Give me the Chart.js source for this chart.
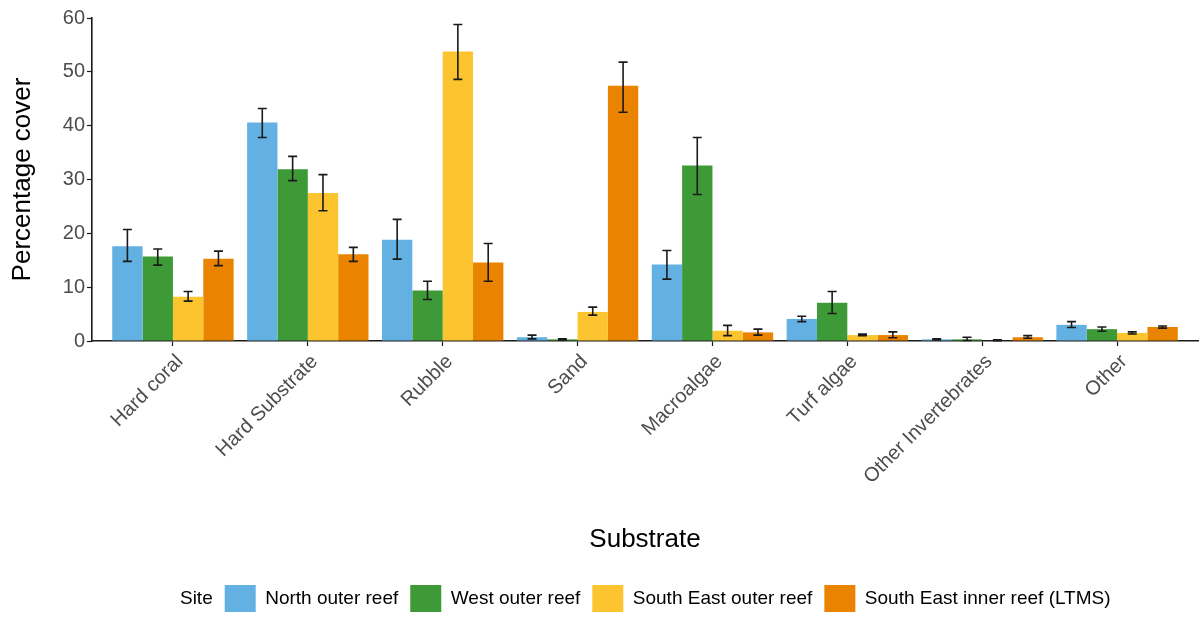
<!DOCTYPE html>
<html>
<head>
<meta charset="utf-8">
<script src="https://cdn.jsdelivr.net/npm/chart.js@4.4.1/dist/chart.umd.min.js"></script>
<style>
html,body{margin:0;padding:0;background:#fff;overflow:hidden;}
#wrap{width:1203px;height:617px;}
</style>
</head>
<body>
<div id="wrap"><canvas id="c" width="1203" height="617"></canvas></div>
<script>
const categories = ["Hard coral","Hard Substrate","Rubble","Sand","Macroalgae","Turf algae","Other Invertebrates","Other"];
const siteNames = ["North outer reef","West outer reef","South East outer reef","South East inner reef (LTMS)"];
const legendTitle = "Site";
const yTicks = [0,10,20,30,40,50,60];

const northMean = [17.6, 40.6, 18.8, 0.7, 14.2, 4.1, 0.3, 3.0];
const northLow  = [14.8, 37.8, 15.2, 0.4, 11.5, 3.6, 0.2, 2.5];
const northHigh = [20.7, 43.2, 22.6, 1.1, 16.8, 4.6, 0.4, 3.6];

const westMean = [15.7, 31.9, 9.4, 0.3, 32.6, 7.1, 0.3, 2.2];
const westLow  = [14.1, 29.8, 7.7, 0.2, 27.2, 5.1, 0.1, 1.8];
const westHigh = [17.1, 34.3, 11.1, 0.4, 37.8, 9.2, 0.7, 2.6];

const seOuterMean = [8.2, 27.5, 53.8, 5.4, 1.9, 1.1, 0.1, 1.5];
const seOuterLow  = [7.4, 24.2, 48.6, 4.8, 1.0, 1.0, 0.05, 1.3];
const seOuterHigh = [9.2, 30.9, 58.8, 6.3, 2.9, 1.3, 0.2, 1.7];

const seInnerMean = [15.3, 16.1, 14.6, 47.4, 1.6, 1.1, 0.7, 2.6];
const seInnerLow  = [14.0, 14.8, 11.1, 42.5, 1.1, 0.6, 0.5, 2.4];
const seInnerHigh = [16.7, 17.4, 18.1, 51.8, 2.2, 1.7, 1.0, 2.8];

const colors = ["#63B0E2","#3E9A36","#FCC52F","#E98300"];

const means = [northMean, westMean, seOuterMean, seInnerMean];
const lows = [northLow, westLow, seOuterLow, seInnerLow];
const highs = [northHigh, westHigh, seOuterHigh, seInnerHigh];

const datasets = siteNames.map((name, i) => ({
  label: name,
  data: means[i].map((v, j) => ({x: j + 1, y: v})),
  backgroundColor: colors[i],
  borderWidth: 0,
  categoryPercentage: 0.9,
  barPercentage: 1.0,
  lowVals: lows[i],
  highVals: highs[i]
}));

const errorBars = {
  id: 'errorBars',
  afterDatasetsDraw(chart) {
    const ctx = chart.ctx;
    const ys = chart.scales.y;
    ctx.save();
    ctx.strokeStyle = '#1a1a1a';
    ctx.lineWidth = 1.6;
    chart.data.datasets.forEach((ds, i) => {
      const meta = chart.getDatasetMeta(i);
      if (meta.hidden) return;
      meta.data.forEach((el, j) => {
        const x = el.x;
        const yl = ys.getPixelForValue(ds.lowVals[j]);
        const yh = ys.getPixelForValue(ds.highVals[j]);
        const cw = 4.5;
        ctx.beginPath();
        ctx.moveTo(x, yl); ctx.lineTo(x, yh);
        ctx.moveTo(x - cw, yl); ctx.lineTo(x + cw, yl);
        ctx.moveTo(x - cw, yh); ctx.lineTo(x + cw, yh);
        ctx.stroke();
      });
    });
    ctx.restore();
  }
};

// shift the legend row left so the visible "Site" title and keys sit centred like the reference
const legendShift = {
  id: 'legendShift',
  afterLayout(chart) {
    if (chart.legend) { chart.legend.left -= 20; chart.legend.right -= 20; }
  }
};

const FONT = "'Liberation Sans', Arial, sans-serif";

new Chart(document.getElementById('c'), {
  type: 'bar',
  data: { datasets },
  options: {
    responsive: false,
    animation: false,
    devicePixelRatio: 1,
    layout: { padding: { left: 5, right: 5, top: 18, bottom: -5 } },
    plugins: {
      tooltip: { enabled: false },
      legend: {
        position: 'bottom',
        fullSize: false,
        onClick: () => {},
        labels: {
          boxWidth: 31,
          boxHeight: 27,
          padding: 12,
          color: '#1a1a1a',
          font: { family: FONT, size: 19 },
          generateLabels(chart) {
            const items = chart.data.datasets.map((ds, i) => ({
              text: ds.label,
              fillStyle: ds.backgroundColor,
              strokeStyle: ds.backgroundColor,
              lineWidth: 0,
              hidden: false,
              datasetIndex: i
            }));
            items.unshift({ text: legendTitle, fillStyle: 'rgba(0,0,0,0)', strokeStyle: 'rgba(0,0,0,0)', lineWidth: 0, hidden: false, fontColor: '#000' });
            return items;
          }
        }
      }
    },
    scales: {
      x: {
        type: 'linear',
        min: 0.4,
        max: 8.6,
        offset: false,
        afterBuildTicks(scale) {
          scale.ticks = categories.map((_, i) => ({ value: i + 1 }));
        },
        afterFit(scale) { scale.height = 232; },
        grid: { display: true, drawOnChartArea: false, offset: false, tickLength: 5, color: '#1a1a1a', tickWidth: 1.2 },
        border: { display: true, color: '#1a1a1a', width: 1.6 },
        ticks: {
          autoSkip: false,
          maxRotation: 45,
          minRotation: 45,
          padding: 4,
          labelOffset: 7,
          color: '#4d4d4d',
          font: { family: FONT, size: 20 },
          callback: (v) => categories[v - 1]
        },
        title: {
          display: true,
          text: 'Substrate',
          color: '#000',
          font: { family: FONT, size: 26 },
          padding: { top: 0, bottom: 18 }
        }
      },
      y: {
        min: 0,
        max: 60,
        afterBuildTicks(scale) {
          scale.ticks = yTicks.map(v => ({ value: v }));
        },
        afterFit(scale) { scale.width = 87; },
        grid: { display: true, drawOnChartArea: false, tickLength: 5, color: '#1a1a1a', tickWidth: 1.2 },
        border: { display: true, color: '#1a1a1a', width: 1.6 },
        ticks: {
          color: '#4d4d4d',
          padding: 2,
          font: { family: FONT, size: 20 }
        },
        title: {
          display: true,
          text: 'Percentage cover',
          color: '#000',
          font: { family: FONT, size: 26 },
          padding: { top: 2, bottom: 4 }
        }
      }
    }
  },
  plugins: [errorBars, legendShift]
});
</script>
</body>
</html>
